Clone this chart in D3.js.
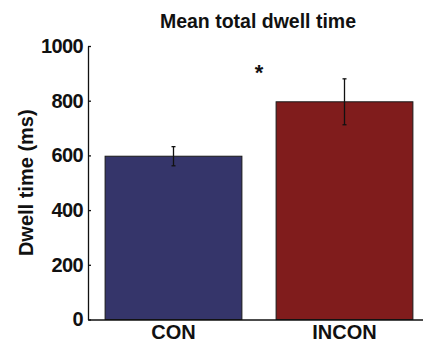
<!DOCTYPE html>
<html><head><meta charset="utf-8">
<script src="https://cdn.jsdelivr.net/npm/d3@7"></script>
<style>html,body{margin:0;padding:0;background:#fff;}svg{display:block;}</style>
</head><body>
<div id="chart"></div>
<script>
const categories = ["CON", "INCON"];
const means = [597, 796];
const errors = [35, 84];
const colors = ["#35356a", "#801c1c"];
const yTicks = [0, 200, 400, 600, 800, 1000];
const title = "Mean total dwell time";
const yLabel = "Dwell time (ms)";

const W = 423, H = 342;
const svg = d3.select("#chart").append("svg").attr("width", W).attr("height", H);
const font = "'Liberation Sans', Arial, Helvetica, sans-serif";

const x = d3.scaleBand().domain(categories).range([88, 430]).paddingInner(0.2).paddingOuter(0.1);
const y = d3.scaleLinear().domain([0, 1000]).range([319.5, 46]);

// bars
svg.selectAll("rect.bar").data(categories).join("rect")
  .attr("class", "bar")
  .attr("x", d => x(d))
  .attr("width", x.bandwidth())
  .attr("y", (d, i) => y(means[i]))
  .attr("height", (d, i) => y(0) - y(means[i]))
  .attr("fill", (d, i) => colors[i])
  .attr("stroke", "#1a1a1a")
  .attr("stroke-width", 1);

// error bars
const eb = svg.selectAll("g.err").data(categories).join("g").attr("class", "err");
eb.append("line")
  .attr("x1", d => x(d) + x.bandwidth() / 2).attr("x2", d => x(d) + x.bandwidth() / 2)
  .attr("y1", (d, i) => y(means[i] + errors[i])).attr("y2", (d, i) => y(means[i] - errors[i]))
  .attr("stroke", "#111").attr("stroke-width", 1.3);
[1, -1].forEach(s => {
  eb.append("line")
    .attr("x1", d => x(d) + x.bandwidth() / 2 - 2).attr("x2", d => x(d) + x.bandwidth() / 2 + 2)
    .attr("y1", (d, i) => y(means[i] + s * errors[i])).attr("y2", (d, i) => y(means[i] + s * errors[i]))
    .attr("stroke", "#111").attr("stroke-width", 1.3);
});

// y axis
const yAxis = svg.append("g").attr("transform", "translate(88,0)")
  .call(d3.axisLeft(y).tickValues(yTicks).tickFormat(d3.format("d")).tickSizeInner(-3).tickSizeOuter(0).tickPadding(5));
yAxis.select(".domain").attr("stroke", "#111").attr("stroke-width", 1.3);
yAxis.selectAll(".tick line").attr("stroke", "#111").attr("stroke-width", 1.3);
yAxis.selectAll(".tick text").attr("font-family", font).attr("font-size", 20)
  .attr("font-weight", "bold").attr("fill", "#111").attr("letter-spacing", -0.6);

// x axis
const xAxis = svg.append("g").attr("transform", `translate(0,${y(0)})`)
  .call(d3.axisBottom(x).tickSize(0).tickPadding(5));
xAxis.select(".domain").attr("stroke", "#111").attr("stroke-width", 1.3);
xAxis.selectAll(".tick text").attr("font-family", font).attr("font-size", 20)
  .attr("font-weight", "bold").attr("fill", "#111").attr("dy", "0.71em");

// title
svg.append("text").attr("x", 258).attr("y", 28).attr("text-anchor", "middle")
  .attr("font-family", font).attr("font-size", 19.5).attr("font-weight", "bold").attr("fill", "#111")
  .text(title);

// y label
svg.append("text").attr("transform", `translate(33,${(y(0) + y(1000)) / 2}) rotate(-90)`)
  .attr("text-anchor", "middle")
  .attr("font-family", font).attr("font-size", 20).attr("font-weight", "bold").attr("fill", "#111")
  .text(yLabel);

// significance marker
svg.append("text").attr("x", (x("CON") + x.bandwidth() + x("INCON")) / 2).attr("y", 80)
  .attr("text-anchor", "middle").attr("font-family", font).attr("font-size", 22).attr("font-weight", "bold").attr("fill", "#111")
  .text("*");
</script>
</body></html>
